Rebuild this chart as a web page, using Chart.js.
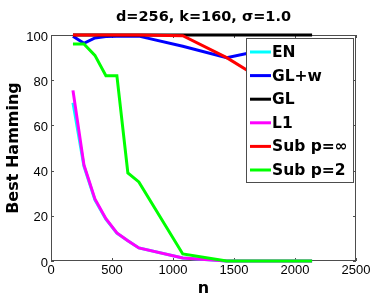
<!DOCTYPE html>
<html>
<head>
<meta charset="utf-8">
<script src="https://cdn.jsdelivr.net/npm/chart.js@4"></script>
<style>
  html, body { margin: 0; padding: 0; background: #fff; }
  #wrap { width: 374px; height: 298px; }
</style>
</head>
<body>
<div id="wrap"><canvas id="chart" width="374" height="298"></canvas></div>
<script>
// values
const chartTitle = 'd=256, k=160, \u03c3=1.0';
const nValues = [180, 270, 360, 450, 540, 630, 720, 1080, 1440, 1800, 2140];
const enValues = [70, 42, 27, 18.5, 12.3, 9, 5.8, 1.3, 0, 0, 0];
const glwValues = [99.5, 96.3, 98.7, 99.3, 99.5, 99.5, 99.5, 95, 90, 94, 97];
const glValues = [100, 100, 100, 100, 100, 100, 100, 100, 100, 100, 100];
const l1Values = [75.5, 42.5, 27.5, 18.7, 12.4, 9, 5.8, 1.3, 0, 0, 0];
const subInfValues = [100, 100, 100, 100, 100, 100, 100, 99.7, 90, 78, 70];
const sub2Values = [96, 96, 91, 82, 82, 39, 35, 3.1, 0, 0, 0];
const xTicks = [0, 500, 1000, 1500, 2000, 2500];
const yTicks = [0, 20, 40, 60, 80, 100];

const seriesNames = ['EN', 'GL+w', 'GL', 'L1', 'Sub p=\u221e', 'Sub p=2'];
const seriesValues = [enValues, glwValues, glValues, l1Values, subInfValues, sub2Values];
const seriesColors = ['#00ffff', '#0000ff', '#000000', '#ff00ff', '#ff0000', '#00ff00'];

const boldFont = '"DejaVu Sans", sans-serif';
const tickFont = '"Liberation Sans", Arial, sans-serif';
const axisColor = '#4d4d4d';

const datasets = seriesNames.map((name, i) => ({
    label: name,
    data: nValues.map((n, j) => ({ x: n, y: seriesValues[i][j] })),
    borderColor: seriesColors[i],
    backgroundColor: seriesColors[i],
    borderWidth: 3,
    pointRadius: 0,
    tension: 0,
    fill: false,
    clip: 4,
    // later series sit on top, like the original plot
    order: seriesNames.length - i
}));

// box, inward ticks, title and the boxed legend
const matlabLook = {
    id: 'matlabLook',
    beforeDatasetsDraw(chart) {
        const { ctx, chartArea: a, scales } = chart;
        ctx.save();
        ctx.strokeStyle = axisColor;
        ctx.lineWidth = 1;
        ctx.strokeRect(a.left + 0.5, a.top + 0.5, a.right - a.left - 1, a.bottom - a.top - 1);
        ctx.beginPath();
        xTicks.forEach(v => {
            const x = Math.round(scales.x.getPixelForValue(v)) + 0.5;
            ctx.moveTo(x, a.bottom); ctx.lineTo(x, a.bottom - 3);
            ctx.moveTo(x, a.top); ctx.lineTo(x, a.top + 3);
        });
        yTicks.forEach(v => {
            const y = Math.round(scales.y.getPixelForValue(v)) + 0.5;
            ctx.moveTo(a.left, y); ctx.lineTo(a.left + 3, y);
            ctx.moveTo(a.right, y); ctx.lineTo(a.right - 3, y);
        });
        ctx.stroke();
        ctx.restore();
    },
    afterDraw(chart) {
        const { ctx, chartArea: a } = chart;
        ctx.save();
        // title
        ctx.fillStyle = '#000';
        ctx.font = 'bold 14.5px ' + boldFont;
        ctx.textAlign = 'center';
        ctx.textBaseline = 'middle';
        ctx.fillText(chartTitle, (a.left + a.right) / 2, 17);

        // legend
        const box = { x: 246, y: 38, w: 107, h: 144 };
        ctx.fillStyle = '#fff';
        ctx.fillRect(box.x, box.y, box.w, box.h);
        ctx.strokeStyle = axisColor;
        ctx.lineWidth = 1;
        ctx.strokeRect(box.x + 0.5, box.y + 0.5, box.w, box.h);
        ctx.font = 'bold 15.5px ' + boldFont;
        ctx.textAlign = 'left';
        seriesNames.forEach((name, i) => {
            const y = 52 + i * 23.6;
            ctx.strokeStyle = seriesColors[i];
            ctx.lineWidth = 3;
            ctx.beginPath();
            ctx.moveTo(250, y); ctx.lineTo(271, y);
            ctx.stroke();
            ctx.fillStyle = '#000';
            ctx.fillText(name, 272, y + 1);
        });
        ctx.restore();
    }
};

new Chart(document.getElementById('chart'), {
    type: 'line',
    data: { datasets: datasets },
    options: {
        responsive: false,
        animation: false,
        events: [],
        layout: { padding: { top: 35, right: 18, left: 0, bottom: 0 } },
        plugins: {
            legend: { display: false },
            title: { display: false },
            tooltip: { enabled: false }
        },
        scales: {
            x: {
                type: 'linear',
                min: 0,
                max: 2500,
                afterFit: s => { s.height = 37; },
                afterBuildTicks: s => { s.ticks = xTicks.map(v => ({ value: v })); },
                grid: { display: false, drawTicks: false },
                border: { display: false },
                ticks: { padding: 2, color: '#000', font: { family: tickFont, size: 13 }, maxRotation: 0, callback: v => String(v) },
                title: { display: true, text: 'n', color: '#000', font: { family: boldFont, size: 16, weight: 'bold' }, padding: { top: 0, bottom: 0 } }
            },
            y: {
                min: 0,
                max: 100,
                afterFit: s => { s.width = 51; },
                afterBuildTicks: s => { s.ticks = yTicks.map(v => ({ value: v })); },
                grid: { display: false, drawTicks: false },
                border: { display: false },
                ticks: { padding: 3, labelOffset: 2, color: '#000', font: { family: tickFont, size: 13 }, callback: v => String(v) },
                title: { display: true, text: 'Best Hamming', color: '#000', font: { family: boldFont, size: 16, weight: 'bold' }, padding: { top: 4, bottom: 0 } }
            }
        }
    },
    plugins: [matlabLook]
});
</script>
</body>
</html>
